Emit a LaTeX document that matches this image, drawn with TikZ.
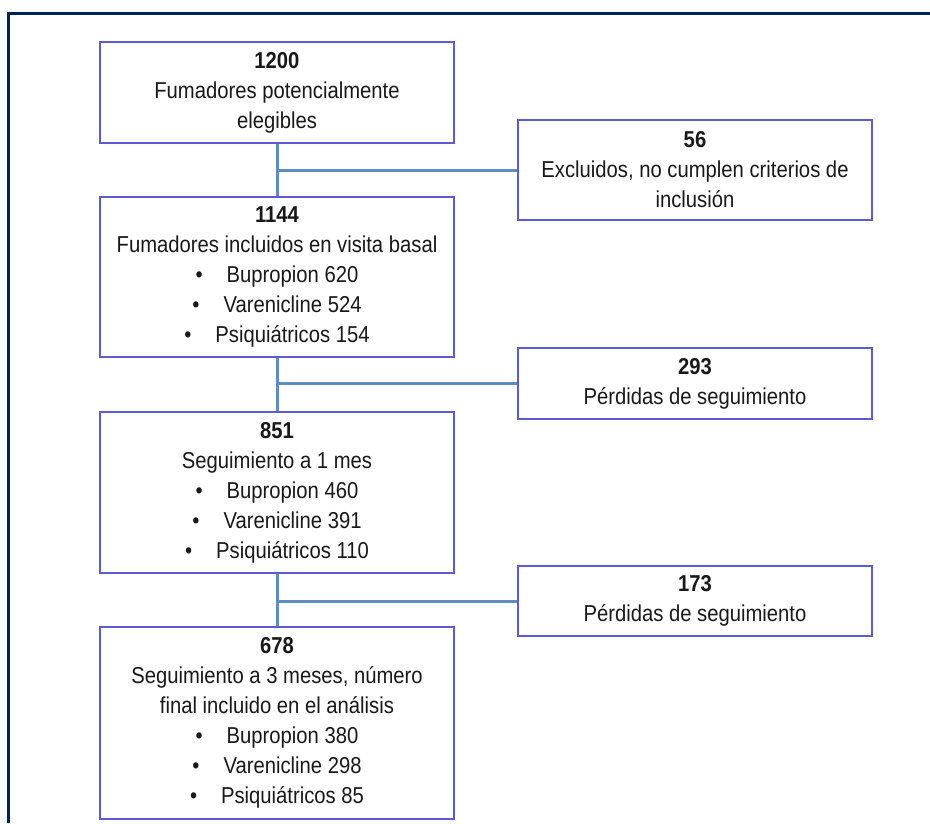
\documentclass[tikz,border=0pt]{standalone}
\usepackage{fontspec}
\setmainfont{Liberation Sans}[FakeStretch=0.88]
\usepackage{tikz}
\usetikzlibrary{calc}
\definecolor{framenavy}{RGB}{0,32,96}
\definecolor{boxblue}{RGB}{92,92,208}
\definecolor{linkblue}{RGB}{96,140,196}
\definecolor{txtgray}{RGB}{25,25,25}
\tikzset{
  box/.style={draw=boxblue, line width=1.5pt, fill=white, align=center, text=txtgray,
    minimum width=354pt, inner sep=0pt, font=\fontsize{23}{30}\selectfont},
  link/.style={draw=linkblue, line width=3pt}
}
\newcommand{\itm}[1]{\textbullet\hspace{24pt}#1}

\begin{document}
\begin{tikzpicture}[x=1pt,y=-1pt]
    \useasboundingbox (0,0) rectangle (930,823);
    % frame (top and left)
    \draw[framenavy, line width=3pt] (8,823) -- (8,13) -- (930,13);
    % main column
    \node[box, minimum height=101pt] (elig) at (277,92.5) {\textbf{1200}\\Fumadores potencialmente\\elegibles};
    \node[box, minimum height=160pt] (basal) at (277,277) {\textbf{1144}\\Fumadores incluidos en visita basal\\\itm{Bupropion 620}\\\itm{Varenicline 524}\\\itm{Psiquiátricos 154}};
    \node[box, minimum height=161pt] (mes1) at (277,492.5) {\textbf{851}\\Seguimiento a 1 mes\\\itm{Bupropion 460}\\\itm{Varenicline 391}\\\itm{Psiquiátricos 110}};
    \node[box, minimum height=192pt] (final) at (277,723) {\textbf{678}\\Seguimiento a 3 meses, número\\final incluido en el análisis\\\itm{Bupropion 380}\\\itm{Varenicline 298}\\\itm{Psiquiátricos 85}};
    % side boxes
    \node[box, minimum height=100pt] (excl) at (695,170) {\textbf{56}\\Excluidos, no cumplen criterios de\\inclusión};
    \node[box, minimum height=71pt] (perd1) at (695,383.5) {\textbf{293}\\Pérdidas de seguimiento};
    \node[box, minimum height=70pt] (perd3) at (695,601) {\textbf{173}\\Pérdidas de seguimiento};
    % connectors
    \draw[link] (elig.south) -- (basal.north);
    \draw[link] (elig.south |- excl.west) -- (excl.west);
    \draw[link] (basal.south) -- (mes1.north);
    \draw[link] (basal.south |- perd1.west) -- (perd1.west);
    \draw[link] (mes1.south) -- (final.north);
    \draw[link] (mes1.south |- perd3.west) -- (perd3.west);
\end{tikzpicture}
\end{document}
